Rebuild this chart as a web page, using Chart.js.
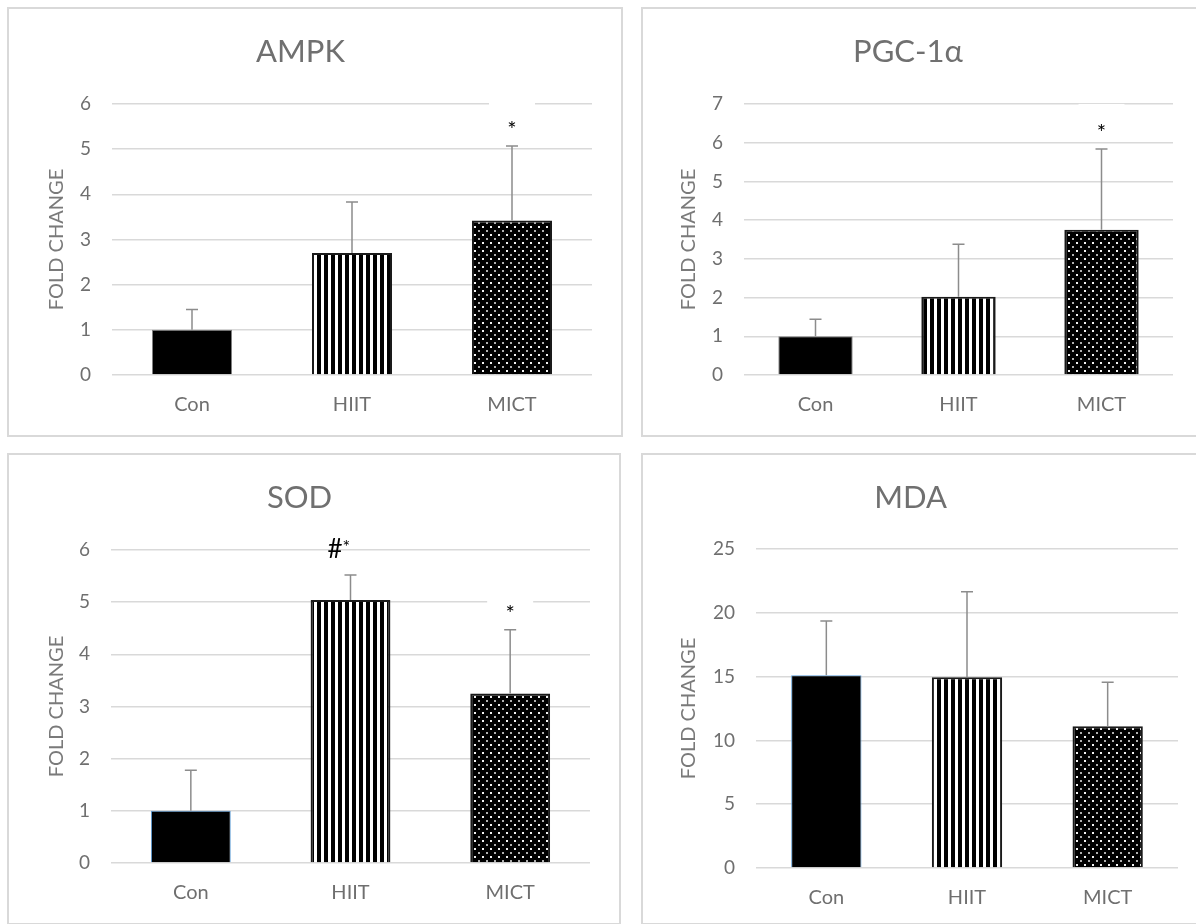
<!DOCTYPE html>
<html>
<head>
<meta charset="utf-8">
<title>AMPK, PGC-1α, SOD, MDA</title>
<script src="https://cdn.jsdelivr.net/npm/chart.js@4.4.1/dist/chart.umd.min.js"></script>
<style>
  html, body { margin: 0; padding: 0; background: #fff; width: 1196px; height: 924px; overflow: hidden; }
  .panel { position: absolute; border: 2px solid #d9d9d9; background: #fff; }
  .panel canvas { display: block; }
</style>
</head>
<body>
<div class="panel" style="left:7px;top:7px;"><canvas id="ampkChart" width="612" height="426"></canvas></div>
<div class="panel" style="left:641px;top:7px;"><canvas id="pgcChart" width="560" height="426"></canvas></div>
<div class="panel" style="left:7px;top:453px;"><canvas id="sodChart" width="610" height="468"></canvas></div>
<div class="panel" style="left:641px;top:453px;"><canvas id="mdaChart" width="560" height="468"></canvas></div>
<script>
// groups and values (mean and +SD)
var groups = ['Con', 'HIIT', 'MICT'];

var ampkMean = [1.0, 2.7, 3.42];
var ampkSd = [0.45, 1.13, 1.65];
var ampkMarks = ['', '', '*'];

var pgcMean = [1.0, 2.02, 3.75];
var pgcSd = [0.44, 1.36, 2.09];
var pgcMarks = ['', '', '*'];

var sodMean = [1.0, 5.04, 3.25];
var sodSd = [0.78, 0.48, 1.22];
var sodMarks = ['', '#*', '*'];

var mdaMean = [15.1, 14.95, 11.1];
var mdaSd = [4.25, 6.7, 3.45];
var mdaMarks = ['', '', ''];

// y axis ranges: [max, step]
var ampkAxis = [6, 1];
var pgcAxis = [7, 1];
var sodAxis = [6, 1];
var mdaAxis = [25, 5];

Chart.defaults.font.family = 'Lato, "Open Sans", sans-serif';
Chart.defaults.color = '#6f6f6f';

function stripes() {
    var c = document.createElement('canvas');
    c.width = 7; c.height = 4;
    var g = c.getContext('2d');
    g.fillStyle = '#fff';
    g.fillRect(0, 0, 7, 4);
    g.fillStyle = '#000';
    g.fillRect(0, 0, 4, 4);
    return g.createPattern(c, 'repeat');
}

function dots() {
    var c = document.createElement('canvas');
    c.width = 8; c.height = 8;
    var g = c.getContext('2d');
    g.fillStyle = '#000';
    g.fillRect(0, 0, 8, 8);
    g.fillStyle = '#f2f2f2';
    g.fillRect(1, 1, 2, 2);
    g.fillStyle = '#b0b0b0';
    g.fillRect(5, 5, 2, 2);
    return g.createPattern(c, 'repeat');
}

// draws the +SD whiskers and the significance marks
var errorBars = {
    id: 'errorBars',
    afterDatasetsDraw: function (chart) {
        var ctx = chart.ctx;
        var y = chart.scales.y;
        var ds = chart.data.datasets[0];
        var meta = chart.getDatasetMeta(0);
        ctx.save();
        meta.data.forEach(function (bar, i) {
            var top = y.getPixelForValue(ds.data[i] + ds.sd[i]);
            ctx.strokeStyle = '#8c8c8c';
            ctx.lineWidth = 1.5;
            ctx.beginPath();
            ctx.moveTo(bar.x, bar.y);
            ctx.lineTo(bar.x, top);
            ctx.moveTo(bar.x - 6, top);
            ctx.lineTo(bar.x + 6, top);
            ctx.stroke();

            var mark = ds.marks[i];
            ctx.fillStyle = '#000';
            ctx.textBaseline = 'middle';
            if (mark === '*') {
                var my = top - 21;
                ctx.fillStyle = '#fff';
                ctx.fillRect(bar.x - 23, my - 24, 46, 34);
                ctx.fillStyle = '#000';
                ctx.font = '22px Lato';
                ctx.textAlign = 'center';
                ctx.fillText('*', bar.x, my + 5);
            } else if (mark === '#*') {
                var hy = top - 25;
                ctx.font = '26px Lato';
                ctx.textAlign = 'right';
                ctx.fillText('#', bar.x - 8, hy);
                ctx.font = '18px Lato';
                ctx.textAlign = 'left';
                ctx.fillText('*', bar.x - 8, hy - 3);
            }
        });
        ctx.restore();
    }
};

function makeChart(id, title, mean, sd, marks, axis, conBorder, box) {
    var titleCenter = 43;
    var titleLine = 31 * 1.2;
    return new Chart(document.getElementById(id).getContext('2d'), {
        type: 'bar',
        data: {
            labels: groups,
            datasets: [{
                data: mean,
                sd: sd,
                marks: marks,
                backgroundColor: ['#000', stripes(), dots()],
                borderColor: [conBorder, '#1a1a1a', '#1a1a1a'],
                borderWidth: [1, 2, 2],
                barPercentage: box.bar,
                categoryPercentage: 1
            }]
        },
        options: {
            responsive: false,
            devicePixelRatio: 1,
            animation: false,
            layout: { padding: { left: 0, right: box.right, top: 0, bottom: 0 } },
            plugins: {
                legend: { display: false },
                tooltip: { enabled: false },
                title: {
                    display: true,
                    text: title,
                    color: '#707070',
                    font: { size: 31, weight: 'normal' },
                    padding: { top: titleCenter - titleLine / 2, bottom: box.top - titleCenter - titleLine / 2 }
                }
            },
            scales: {
                x: {
                    grid: { display: false, drawTicks: false },
                    border: { display: false },
                    ticks: { padding: 18, font: { size: 20 } },
                    afterFit: function (s) { s.height = box.bottom; }
                },
                y: {
                    min: 0,
                    max: axis[0],
                    ticks: { stepSize: axis[1], padding: 21, font: { size: 19 } },
                    grid: { color: '#d9d9d9', lineWidth: 1.5, drawTicks: false },
                    border: { display: false },
                    title: {
                        display: true,
                        text: 'FOLD CHANGE',
                        color: '#7a7a7a',
                        font: { size: 20 },
                        padding: { top: box.ytitle, bottom: 0 }
                    },
                    afterFit: function (s) { s.width = box.left; }
                }
            }
        },
        plugins: [errorBars]
    });
}

makeChart('ampkChart', 'AMPK', ampkMean, ampkSd, ampkMarks, ampkAxis, '#7f7f7f',
    { left: 103, right: 29, top: 95, bottom: 60, ytitle: 36, bar: 0.5 });
makeChart('pgcChart', 'PGC-1\u03b1', pgcMean, pgcSd, pgcMarks, pgcAxis, '#7f7f7f',
    { left: 101, right: 30, top: 95, bottom: 60, ytitle: 34, bar: 0.52 });
makeChart('sodChart', 'SOD', sodMean, sodSd, sodMarks, sodAxis, '#5b9bd5',
    { left: 102, right: 29, top: 95, bottom: 60, ytitle: 36, bar: 0.5 });
makeChart('mdaChart', 'MDA', mdaMean, mdaSd, mdaMarks, mdaAxis, '#5b9bd5',
    { left: 113, right: 25, top: 94, bottom: 55, ytitle: 34, bar: 0.5 });
</script>
</body>
</html>
